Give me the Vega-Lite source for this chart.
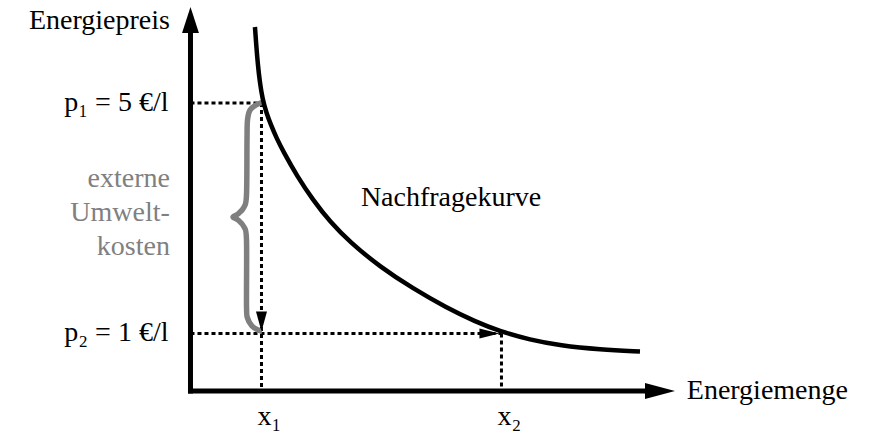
{
  "$schema": "https://vega.github.io/schema/vega-lite/v6.json",
  "autosize": {"type": "fit", "contains": "padding"},
  "width": 874,
  "height": 435,
  "padding": 0,
  "background": "white",
  "config": {"view": {"stroke": null}, "text": {"font": "Liberation Serif"}},
  "datasets": {
    "nachfrage": [
      {"menge": 0.908, "preis": 6.319},
      {"menge": 0.927, "preis": 5.99},
      {"menge": 0.948, "preis": 5.677},
      {"menge": 0.976, "preis": 5.365},
      {"menge": 1.014, "preis": 5.069},
      {"menge": 1.07, "preis": 4.826},
      {"menge": 1.134, "preis": 4.618},
      {"menge": 1.218, "preis": 4.375},
      {"menge": 1.303, "preis": 4.167},
      {"menge": 1.5, "preis": 3.733},
      {"menge": 1.725, "preis": 3.316},
      {"menge": 1.965, "preis": 2.938},
      {"menge": 2.246, "preis": 2.583},
      {"menge": 2.669, "preis": 2.156},
      {"menge": 3.134, "preis": 1.778},
      {"menge": 3.613, "preis": 1.441},
      {"menge": 4.007, "preis": 1.208},
      {"menge": 4.359, "preis": 1.035},
      {"menge": 4.782, "preis": 0.889},
      {"menge": 5.204, "preis": 0.79},
      {"menge": 5.768, "preis": 0.72},
      {"menge": 6.331, "preis": 0.686}
    ],
    "klammer": [
      {"i": 1, "menge": 1.021, "preis": 5.017},
      {"i": 2, "menge": 0.923, "preis": 4.965},
      {"i": 3, "menge": 0.838, "preis": 4.878},
      {"i": 4, "menge": 0.803, "preis": 4.705},
      {"i": 5, "menge": 0.796, "preis": 4.358},
      {"i": 6, "menge": 0.789, "preis": 3.403},
      {"i": 7, "menge": 0.754, "preis": 3.194},
      {"i": 8, "menge": 0.669, "preis": 3.073},
      {"i": 9, "menge": 0.599, "preis": 3.021},
      {"i": 10, "menge": 0.669, "preis": 2.969},
      {"i": 11, "menge": 0.754, "preis": 2.847},
      {"i": 12, "menge": 0.789, "preis": 2.622},
      {"i": 13, "menge": 0.789, "preis": 1.493},
      {"i": 14, "menge": 0.803, "preis": 1.267},
      {"i": 15, "menge": 0.866, "preis": 1.128},
      {"i": 16, "menge": 0.951, "preis": 1.059},
      {"i": 17, "menge": 1.007, "preis": 1.042}
    ],
    "hilfslinien": [
      {"menge": 0, "preis": 5, "menge2": 1, "preis2": 5},
      {"menge": 1, "preis": 5, "menge2": 1, "preis2": 0},
      {"menge": 0, "preis": 1, "menge2": 4.38, "preis2": 1},
      {"menge": 4.38, "preis": 1, "menge2": 4.38, "preis2": 0}
    ],
    "achsen": [
      {"menge": 0, "preis": 0, "menge2": 6.45, "preis2": 0},
      {"menge": 0, "preis": 0, "menge2": 0, "preis2": 6.2}
    ],
    "pfeile": [
      {"typ": "y-achse", "menge": 0, "preis": 6.667},
      {"typ": "x-achse", "menge": 6.824, "preis": 0},
      {"typ": "runter", "menge": 1, "preis": 1},
      {"typ": "rechts", "menge": 4.38, "preis": 1}
    ],
    "beschriftung": [
      {"typ": "links", "text": "Energiepreis", "menge": -0.29, "preis": 6.43},
      {"typ": "links", "text": "p₁ = 5 €/l", "menge": -0.31, "preis": 5},
      {"typ": "links", "text": "p₂ = 1 €/l", "menge": -0.31, "preis": 1},
      {"typ": "grau", "text": "externe\nUmwelt-\nkosten", "menge": -0.29, "preis": 3.68},
      {"typ": "kurve", "text": "Nachfragekurve", "menge": 2.4, "preis": 3.21},
      {"typ": "achse", "text": "Energiemenge", "menge": 6.99, "preis": 0},
      {"typ": "unten", "text": "x₁", "menge": 1, "preis": -0.59},
      {"typ": "unten", "text": "x₂", "menge": 4.38, "preis": -0.59}
    ]
  },
  "encoding": {
    "x": {"field": "menge", "type": "quantitative", "axis": null, "scale": {"domain": [-2.683, 9.627], "nice": false, "zero": false}},
    "y": {"field": "preis", "type": "quantitative", "axis": null, "scale": {"domain": [-0.764, 6.788], "nice": false, "zero": false}}
  },
  "layer": [
    {
      "data": {"name": "hilfslinien"},
      "mark": {"type": "rule", "color": "black", "strokeWidth": 3, "strokeDash": [4, 3]},
      "encoding": {"x2": {"field": "menge2"}, "y2": {"field": "preis2"}}
    },
    {
      "data": {"name": "klammer"},
      "mark": {"type": "line", "color": "#7f7f7f", "strokeWidth": 5.5, "interpolate": "cardinal"},
      "encoding": {"order": {"field": "i", "type": "quantitative"}}
    },
    {
      "data": {"name": "nachfrage"},
      "mark": {"type": "line", "color": "black", "strokeWidth": 4.5, "interpolate": "basis"},
      "encoding": {}
    },
    {
      "data": {"name": "achsen"},
      "mark": {"type": "rule", "color": "black", "strokeWidth": 5, "strokeCap": "square"},
      "encoding": {"x2": {"field": "menge2"}, "y2": {"field": "preis2"}}
    },
    {
      "data": {"name": "pfeile"},
      "transform": [{"filter": "datum.typ === 'y-achse'"}],
      "mark": {"type": "point", "filled": true, "color": "black", "opacity": 1, "strokeWidth": 0, "shape": "M0,-1L0.65,1L-0.65,1Z", "size": 676, "yOffset": 13},
      "encoding": {}
    },
    {
      "data": {"name": "pfeile"},
      "transform": [{"filter": "datum.typ === 'x-achse'"}],
      "mark": {"type": "point", "filled": true, "color": "black", "opacity": 1, "strokeWidth": 0, "shape": "M1,0L-1,-0.53L-1,0.53Z", "size": 900, "xOffset": -15},
      "encoding": {}
    },
    {
      "data": {"name": "pfeile"},
      "transform": [{"filter": "datum.typ === 'runter'"}],
      "mark": {"type": "point", "filled": true, "color": "black", "opacity": 1, "strokeWidth": 0, "shape": "M0,1L-0.55,-1L0.55,-1Z", "size": 400, "yOffset": -12},
      "encoding": {}
    },
    {
      "data": {"name": "pfeile"},
      "transform": [{"filter": "datum.typ === 'rechts'"}],
      "mark": {"type": "point", "filled": true, "color": "black", "opacity": 1, "strokeWidth": 0, "shape": "M1,0L-1,-0.5L-1,0.5Z", "size": 400, "xOffset": -12},
      "encoding": {}
    },
    {
      "data": {"name": "beschriftung"},
      "transform": [{"filter": "datum.typ === 'links'"}],
      "mark": {"type": "text", "font": "Liberation Serif", "align": "right", "baseline": "middle", "fontSize": 28, "color": "black"},
      "encoding": {"text": {"field": "text"}}
    },
    {
      "data": {"name": "beschriftung"},
      "transform": [{"filter": "datum.typ === 'grau'"}],
      "mark": {"type": "text", "font": "Liberation Serif", "align": "right", "baseline": "middle", "fontSize": 28, "color": "#808080", "lineBreak": "\n", "lineHeight": 34},
      "encoding": {"text": {"field": "text"}}
    },
    {
      "data": {"name": "beschriftung"},
      "transform": [{"filter": "datum.typ === 'kurve'"}],
      "mark": {"type": "text", "font": "Liberation Serif", "align": "left", "baseline": "alphabetic", "fontSize": 28, "color": "black"},
      "encoding": {"text": {"field": "text"}}
    },
    {
      "data": {"name": "beschriftung"},
      "transform": [{"filter": "datum.typ === 'achse'"}],
      "mark": {"type": "text", "font": "Liberation Serif", "align": "left", "baseline": "middle", "fontSize": 28, "color": "black"},
      "encoding": {"text": {"field": "text"}}
    },
    {
      "data": {"name": "beschriftung"},
      "transform": [{"filter": "datum.typ === 'unten'"}],
      "mark": {"type": "text", "font": "Liberation Serif", "align": "left", "baseline": "alphabetic", "fontSize": 28, "color": "black", "dx": -4},
      "encoding": {"text": {"field": "text"}}
    }
  ]
}
